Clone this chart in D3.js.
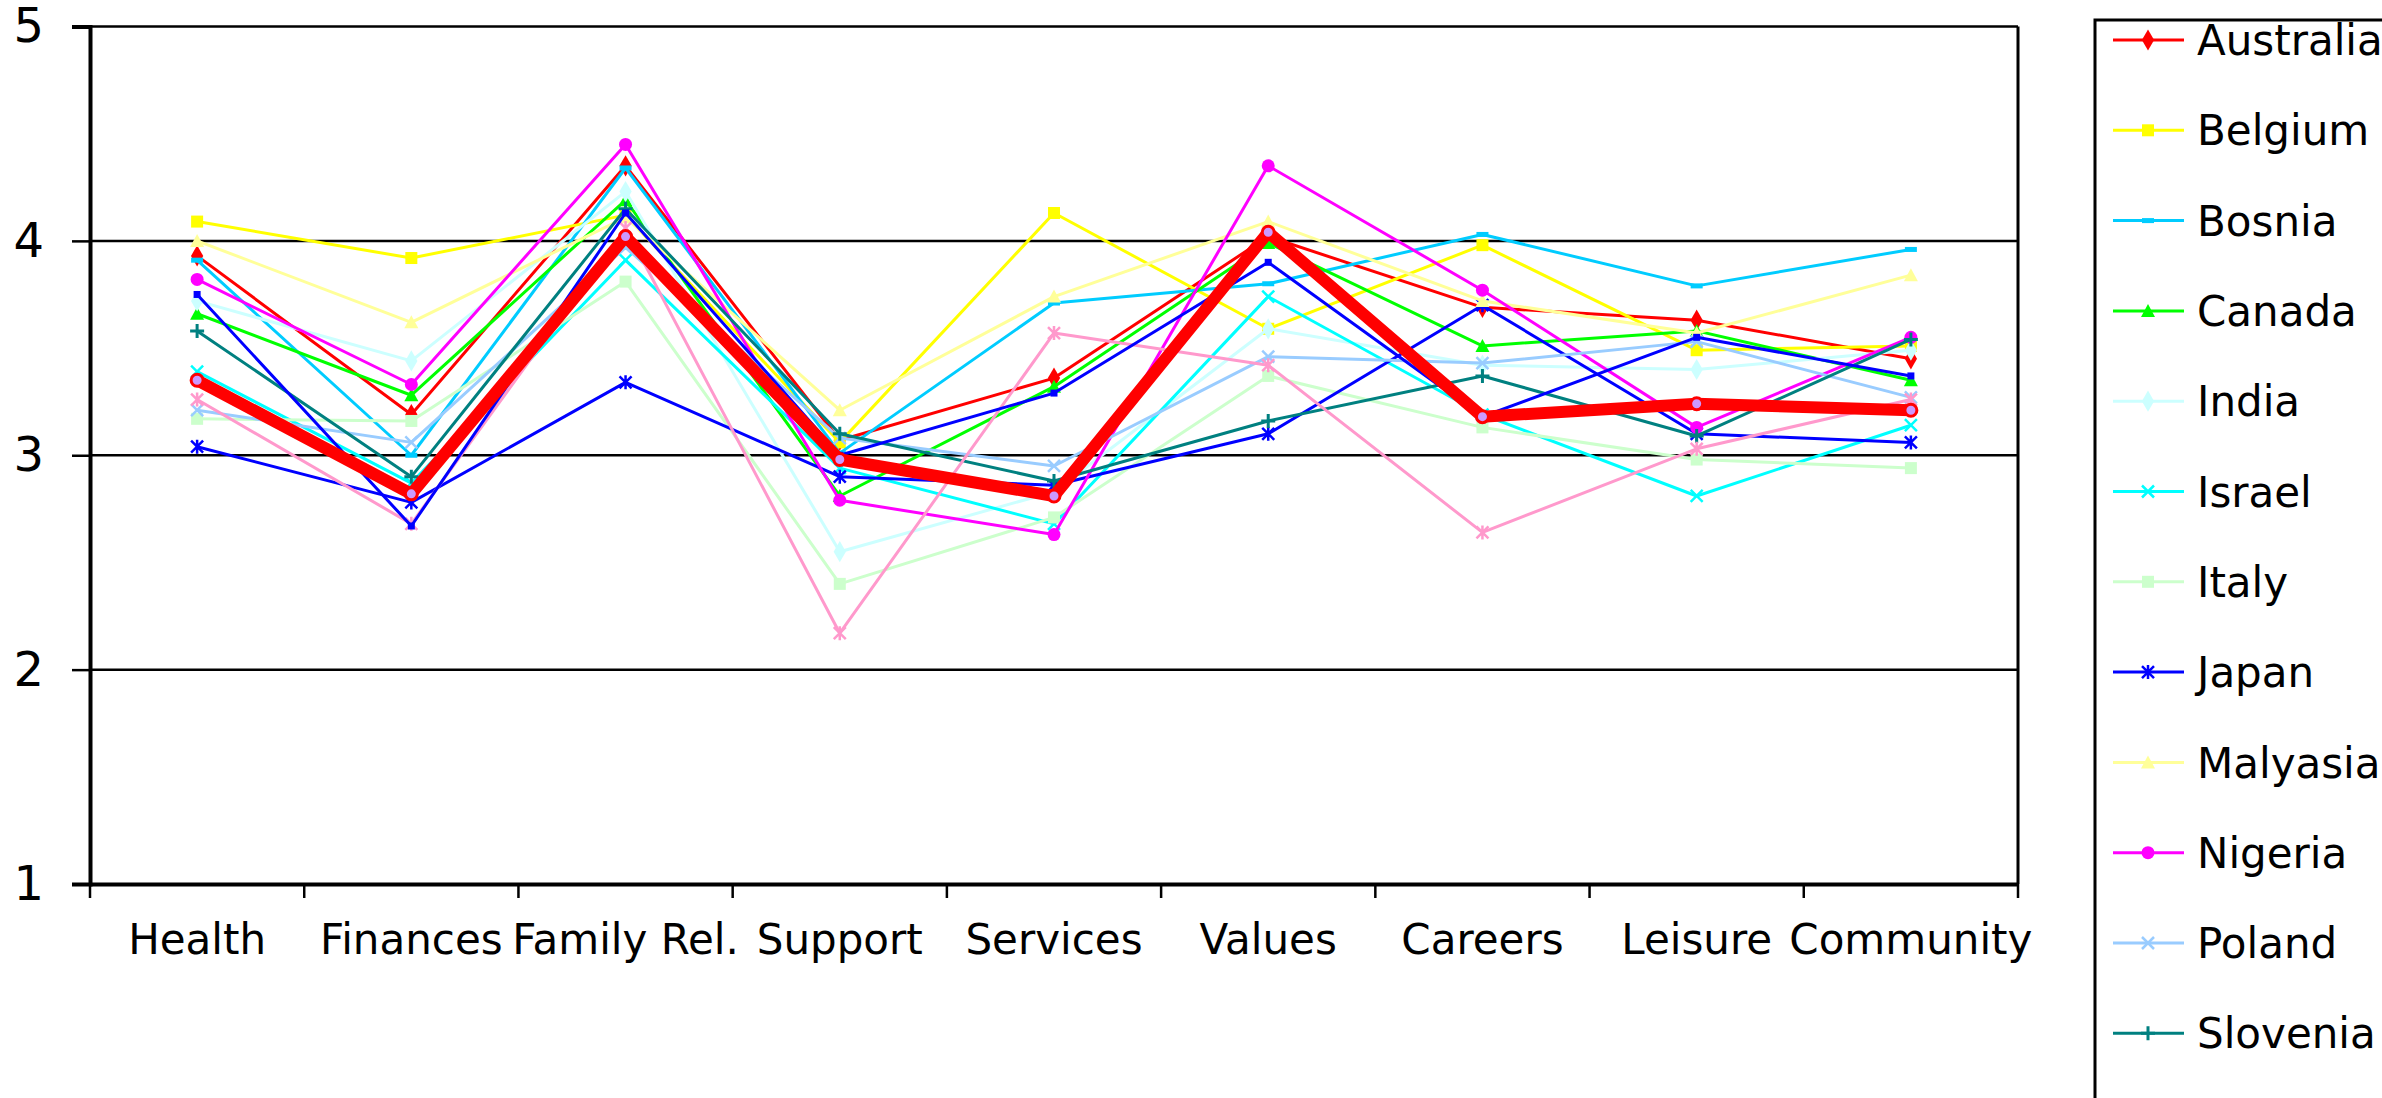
<!DOCTYPE html>
<html>
<head>
<meta charset="utf-8">
<script src="https://cdn.jsdelivr.net/npm/d3@7"></script>
<style>
  html, body { margin: 0; padding: 0; background: #fff; }
  svg { display: block; }
  text { font-family: "DejaVu Sans", Verdana, sans-serif; fill: #000; }
</style>
</head>
<body>
<script>
'use strict';

// categories on the x axis
var categories = ["Health", "Finances", "Family Rel.", "Support", "Services", "Values", "Careers", "Leisure", "Community"];
var yTicks = [1, 2, 3, 4, 5];

// one array per country, same order as categories
var australia = [3.93, 3.19, 4.35, 3.07, 3.36, 4.02, 3.69, 3.63, 3.45];
var belgium   = [4.09, 3.92, 4.12, 3.06, 4.13, 3.59, 3.98, 3.49, 3.51];
var bosnia    = [3.91, 3.00, 4.34, 3.01, 3.71, 3.80, 4.03, 3.79, 3.96];
var canada    = [3.66, 3.28, 4.19, 2.81, 3.32, 3.99, 3.51, 3.58, 3.35];
var india     = [3.72, 3.44, 4.23, 2.55, 2.83, 3.59, 3.42, 3.40, 3.49];
var israel    = [3.39, 2.87, 3.91, 2.94, 2.68, 3.74, 3.19, 2.81, 3.14];
var italy     = [3.17, 3.16, 3.81, 2.40, 2.71, 3.37, 3.13, 2.98, 2.94];
var japan     = [3.04, 2.78, 3.34, 2.90, 2.86, 3.10, 3.70, 3.10, 3.06];
var malyasia  = [4.00, 3.62, 4.11, 3.21, 3.74, 4.09, 3.72, 3.57, 3.84];
var nigeria   = [3.82, 3.33, 4.45, 2.79, 2.63, 4.35, 3.77, 3.13, 3.55];
var poland    = [3.21, 3.06, 3.97, 3.08, 2.95, 3.46, 3.43, 3.53, 3.27];
var slovenia  = [3.58, 2.90, 4.15, 3.10, 2.88, 3.16, 3.37, 3.09, 3.54];
// the last three sit below the visible part of the legend
var spain     = [3.26, 2.68, 4.06, 2.17, 3.57, 3.42, 2.64, 3.03, 3.26];
var usa       = [3.75, 2.67, 4.13, 3.00, 3.29, 3.90, 3.18, 3.55, 3.37];
var average   = [3.35, 2.82, 4.02, 2.98, 2.81, 4.04, 3.18, 3.24, 3.21];

var series = [
  {name: "Australia", values: australia, color: "#ff0000", marker: "diamond"},
  {name: "Belgium",   values: belgium,   color: "#ffff00", marker: "square"},
  {name: "Bosnia",    values: bosnia,    color: "#00ccff", marker: "dash"},
  {name: "Canada",    values: canada,    color: "#00ff00", marker: "triangle"},
  {name: "India",     values: india,     color: "#ccffff", marker: "diamond"},
  {name: "Israel",    values: israel,    color: "#00ffff", marker: "x"},
  {name: "Italy",     values: italy,     color: "#ccffcc", marker: "square"},
  {name: "Japan",     values: japan,     color: "#0000ff", marker: "star"},
  {name: "Malyasia",  values: malyasia,  color: "#ffff99", marker: "triangle"},
  {name: "Nigeria",   values: nigeria,   color: "#ff00ff", marker: "circle"},
  {name: "Poland",    values: poland,    color: "#99ccff", marker: "x"},
  {name: "Slovenia",  values: slovenia,  color: "#008080", marker: "plus"},
  {name: "Spain",     values: spain,     color: "#ff99cc", marker: "star"},
  {name: "USA",       values: usa,       color: "#0000ff", marker: "small"},
  {name: "Average",   values: average,   color: "#ff0000", marker: "ring", thick: true}
];

var W = 2382, H = 1098;
var plot = {left: 90, right: 2018, top: 26.5, bottom: 884};

var svg = d3.select("body").append("svg")
  .attr("width", W).attr("height", H);

var x = d3.scaleBand().domain(categories).range([plot.left, plot.right]);
var y = d3.scaleLinear().domain([1, 5]).range([plot.bottom, plot.top]);
function cx(c) { return x(c) + x.bandwidth() / 2; }

// horizontal grid lines
svg.append("g").selectAll("line")
  .data(yTicks.filter(function(d) { return d > 1; }))
  .enter().append("line")
  .attr("x1", plot.left).attr("x2", plot.right)
  .attr("y1", function(d) { return y(d); }).attr("y2", function(d) { return y(d); })
  .attr("stroke", "#000").attr("stroke-width", 2.5);

// right border of the plot area
svg.append("line")
  .attr("x1", plot.right).attr("x2", plot.right)
  .attr("y1", plot.top).attr("y2", plot.bottom)
  .attr("stroke", "#000").attr("stroke-width", 3);

// y axis
var yAxis = svg.append("g")
  .attr("transform", "translate(" + plot.left + ",0)")
  .call(d3.axisLeft(y).tickValues(yTicks).tickFormat(d3.format("d")).tickSize(18).tickPadding(28));
yAxis.select(".domain").attr("stroke-width", 4);
yAxis.selectAll(".tick line").attr("stroke-width", 2.5);
yAxis.selectAll("text").style("font-size", "48px");

// x axis, ticks sit between the categories
var xAxis = svg.append("g")
  .attr("transform", "translate(0," + plot.bottom + ")")
  .call(d3.axisBottom(x).tickSize(0).tickPadding(40));
xAxis.select(".domain").attr("stroke-width", 4);
xAxis.selectAll("text").style("font-size", "42px");

var edges = categories.map(function(c) { return x(c); }).concat([plot.right]);
svg.append("g").selectAll("line")
  .data(edges).enter().append("line")
  .attr("x1", function(d) { return d; }).attr("x2", function(d) { return d; })
  .attr("y1", plot.bottom).attr("y2", plot.bottom + 14)
  .attr("stroke", "#000").attr("stroke-width", 2.5);

// marker shapes
function drawMarker(g, type, color) {
  var s = 6;
  if (type == "diamond") {
    g.append("path").attr("d", d3.symbol().type(d3.symbolDiamond).size(130)()).attr("fill", color);
  } else if (type == "square") {
    g.append("rect").attr("x", -s).attr("y", -s).attr("width", 2 * s).attr("height", 2 * s).attr("fill", color);
  } else if (type == "small") {
    g.append("rect").attr("x", -3.5).attr("y", -3.5).attr("width", 7).attr("height", 7).attr("fill", color);
  } else if (type == "dash") {
    g.append("rect").attr("x", -s).attr("y", -2.5).attr("width", 2 * s).attr("height", 5).attr("fill", color);
  } else if (type == "triangle") {
    g.append("path").attr("d", "M0,-7L7,6L-7,6Z").attr("fill", color);
  } else if (type == "circle") {
    g.append("circle").attr("r", 6.5).attr("fill", color);
  } else if (type == "ring") {
    g.append("circle").attr("r", 6).attr("fill", "#cc99ff").attr("stroke", color).attr("stroke-width", 3);
  } else if (type == "x") {
    g.append("path").attr("d", "M-6,-6L6,6M-6,6L6,-6").attr("stroke", color).attr("stroke-width", 2.5);
  } else if (type == "plus") {
    g.append("path").attr("d", "M-7,0L7,0M0,-7L0,7").attr("stroke", color).attr("stroke-width", 3);
  } else if (type == "star") {
    g.append("path").attr("d", "M-6,-6L6,6M-6,6L6,-6M0,-7L0,7").attr("stroke", color).attr("stroke-width", 2.5);
  }
}

var line = d3.line()
  .x(function(d, i) { return cx(categories[i]); })
  .y(function(d) { return y(d); });

series.forEach(function(s) {
  var g = svg.append("g");
  g.append("path")
    .attr("d", line(s.values))
    .attr("fill", "none")
    .attr("stroke", s.color)
    .attr("stroke-width", s.thick ? 12 : 3)
    .attr("stroke-linejoin", "round");
  s.values.forEach(function(v, i) {
    var m = g.append("g").attr("transform", "translate(" + cx(categories[i]) + "," + y(v) + ")");
    drawMarker(m, s.marker, s.color);
  });
});

// legend (runs off the bottom of the picture)
var legend = svg.append("g").attr("transform", "translate(2095,20)");
var rowH = 90.3;
legend.append("rect")
  .attr("x", 0).attr("y", 0)
  .attr("width", 400).attr("height", series.length * rowH + 20)
  .attr("fill", "none").attr("stroke", "#000").attr("stroke-width", 3);

var rows = legend.selectAll(".row").data(series).enter().append("g")
  .attr("transform", function(d, i) { return "translate(0," + (20 + i * rowH) + ")"; });
rows.append("line")
  .attr("x1", 18).attr("x2", 89).attr("y1", 0).attr("y2", 0)
  .attr("stroke", function(d) { return d.color; })
  .attr("stroke-width", function(d) { return d.thick ? 12 : 3; });
rows.each(function(d) {
  var m = d3.select(this).append("g").attr("transform", "translate(53,0)");
  drawMarker(m, d.marker, d.color);
});
rows.append("text")
  .attr("x", 102).attr("y", 0).attr("dy", "0.36em")
  .style("font-size", "42px")
  .text(function(d) { return d.name; });
</script>
</body>
</html>
